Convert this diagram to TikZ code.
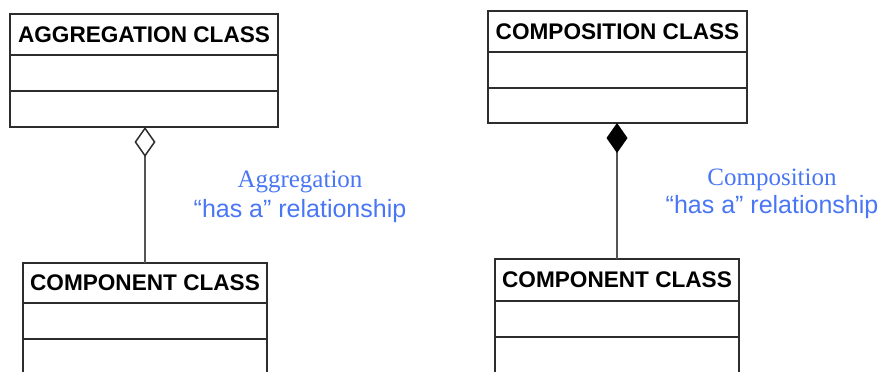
\documentclass[tikz,border=0pt]{standalone}
\usepackage{fontspec}
\setmainfont{Liberation Serif}
\setsansfont{Liberation Sans}
\usepackage{tikz}
\usetikzlibrary{arrows.meta}
\usetikzlibrary{positioning}
\definecolor{umlblue}{RGB}{72,118,245}
\definecolor{umledge}{RGB}{45,45,45}
\definecolor{umlline}{RGB}{85,85,85}
\tikzset{
    classname/.style={draw=umledge, line width=1.3pt, outer sep=0pt, inner sep=2pt,
        minimum height=41pt, font=\sffamily\bfseries\fontsize{22.6}{24}\selectfont},
    classpart/.style={draw=umledge, line width=1.3pt, outer sep=0pt, minimum height=36pt},
    aggregation/.style={draw=umlline, line width=1.5pt,
        -{Diamond[open, length=30pt, width=21pt, color=umledge]}},
    composition/.style={draw=umlline, line width=1.5pt,
        -{Diamond[length=30pt, width=21pt, color=black]}},
    relnote/.style={text=umlblue, anchor=base, inner sep=0pt, font=\fontsize{25}{28}\selectfont},
}
\begin{document}
\begin{tikzpicture}[x=1pt, y=-1pt]
	\clip (0,0) rectangle (884,372);
% aggregation
	\node[classname, minimum width=268pt, anchor=north west] (aggrName) at (10,14) {AGGREGATION CLASS};
	\node[classpart, minimum width=268pt, below=0pt of aggrName] (aggrAttr) {};
	\node[classpart, minimum width=268pt, below=0pt of aggrAttr] (aggrOps) {};
	\node[classname, minimum width=244pt, minimum height=40pt, anchor=north west] (partAName) at (23,263) {COMPONENT CLASS};
	\node[classpart, minimum width=244pt, below=0pt of partAName] (partAAttr) {};
	\node[classpart, minimum width=244pt, below=0pt of partAAttr] (partAOps) {};
	\draw[aggregation] (partAName.north) -- (partAName.north |- aggrOps.south);
	\node[relnote] (aggrLabel) at (300,187) {Aggregation};
	\node[relnote, font=\sffamily\fontsize{25}{28}\selectfont] (aggrNote) at (300,217) {“has a” relationship};
% composition
	\node[classname, minimum width=259pt, anchor=north west] (compName) at (488,11) {COMPOSITION CLASS};
	\node[classpart, minimum width=259pt, below=0pt of compName] (compAttr) {};
	\node[classpart, minimum width=259pt, minimum height=35pt, below=0pt of compAttr] (compOps) {};
	\node[classname, minimum width=244pt, minimum height=42pt, anchor=north west] (partBName) at (495,259) {COMPONENT CLASS};
	\node[classpart, minimum width=244pt, below=0pt of partBName] (partBAttr) {};
	\node[classpart, minimum width=244pt, below=0pt of partBAttr] (partBOps) {};
	\draw[composition] (partBName.north) -- (partBName.north |- compOps.south);
	\node[relnote] (compLabel) at (772,185) {Composition};
	\node[relnote, font=\sffamily\fontsize{25}{28}\selectfont] (compNote) at (772,213) {“has a” relationship};
\end{tikzpicture}
\end{document}
